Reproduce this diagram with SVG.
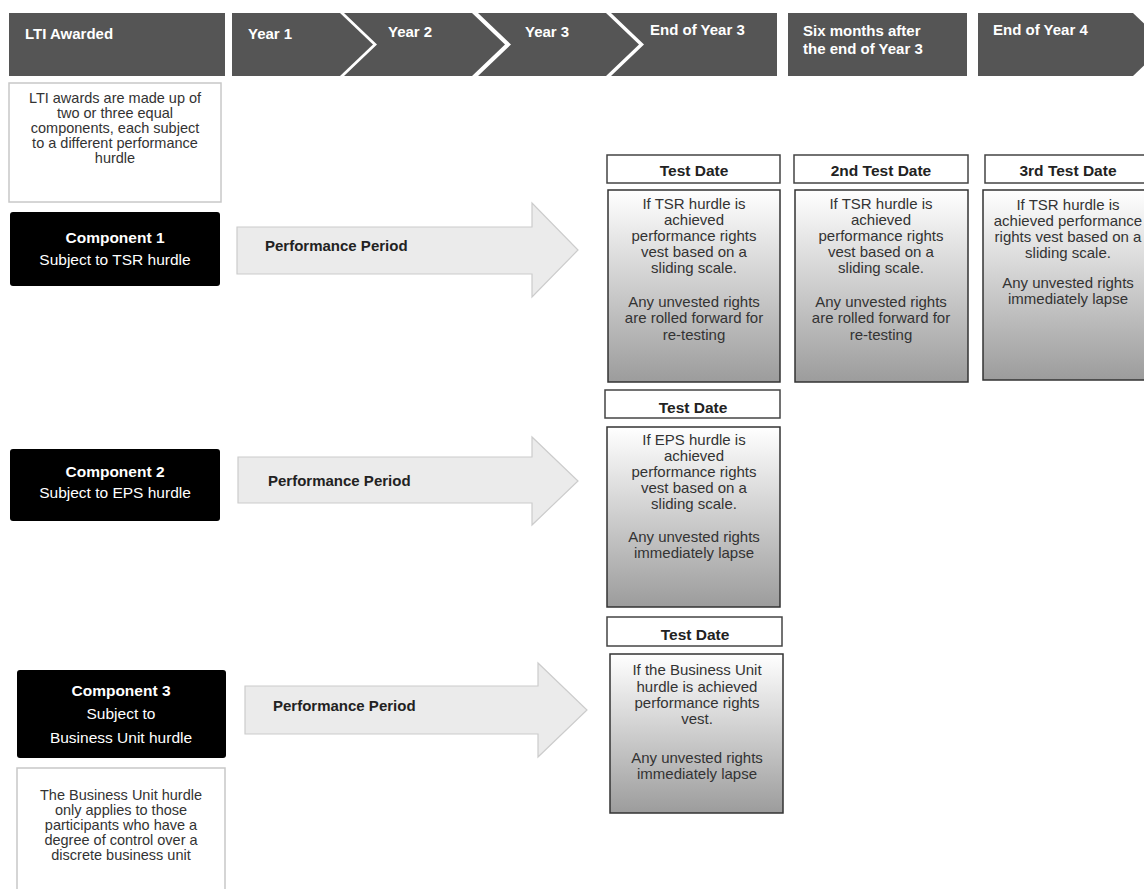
<svg xmlns="http://www.w3.org/2000/svg" width="1144" height="889" viewBox="0 0 1144 889">
<style>
.hdr{fill:#555555}
.ht{font-family:"Liberation Sans",Arial,sans-serif;font-size:15px;font-weight:bold;fill:#ffffff}
.note{fill:#ffffff;stroke:#c8c8c8;stroke-width:1.5}
.nt{font-family:"Liberation Sans",Arial,sans-serif;font-size:14.5px;fill:#333333;text-anchor:middle}
.comp{fill:#000000}
.ct{font-family:"Liberation Sans",Arial,sans-serif;font-size:15.5px;fill:#ffffff;text-anchor:middle}
.ctb{font-weight:bold}
.arr{fill:#ebebeb;stroke:#cccccc;stroke-width:1.2}
.at{font-family:"Liberation Sans",Arial,sans-serif;font-size:15px;font-weight:bold;fill:#222222}
.th{fill:#ffffff;stroke:#444444;stroke-width:1.5}
.tht{font-family:"Liberation Sans",Arial,sans-serif;font-size:15.5px;font-weight:bold;fill:#222222;text-anchor:middle}
.tb{fill:url(#grad);stroke:#333333;stroke-width:1.5}
.tbt{font-family:"Liberation Sans",Arial,sans-serif;font-size:15px;fill:#333333;text-anchor:middle}
</style>
<defs>
<linearGradient id="grad" x1="0" y1="0" x2="0" y2="1">
<stop offset="0" stop-color="#ffffff"/>
<stop offset="1" stop-color="#9c9c9c"/>
</linearGradient>
</defs>
<rect width="1144" height="889" fill="#ffffff"/>

<g id="header">
<g id="h-lti"><rect class="hdr" x="9" y="13" width="216" height="63"/><text class="ht" x="25" y="39">LTI Awarded</text></g>
<g id="h-y1"><polygon class="hdr" points="232,13 340,13 373,44.5 340,76 232,76"/><text class="ht" x="248" y="39">Year 1</text></g>
<g id="h-y2"><polygon class="hdr" points="344,13 472,13 505,44.5 472,76 344,76 377,44.5"/><text class="ht" x="388" y="37">Year 2</text></g>
<g id="h-y3"><polygon class="hdr" points="478,13 606,13 639,44.5 606,76 478,76 511,44.5"/><text class="ht" x="525" y="37">Year 3</text></g>
<g id="h-ey3"><polygon class="hdr" points="611,13 777,13 777,76 611,76 644,44.5"/><text class="ht" x="650" y="35">End of Year 3</text></g>
<g id="h-six"><rect class="hdr" x="788" y="13" width="179" height="63"/><text class="ht" x="803" y="36">Six months after</text><text class="ht" x="803" y="54">the end of Year 3</text></g>
<g id="h-ey4"><polygon class="hdr" points="978,13 1133,13 1166,44.5 1133,76 978,76"/><text class="ht" x="993" y="35">End of Year 4</text></g>
</g>

<g id="note-top">
<rect class="note" x="9" y="83" width="212" height="119"/>
<text class="nt" x="115" y="103">LTI awards are made up of</text>
<text class="nt" x="115" y="118">two or three equal</text>
<text class="nt" x="115" y="133">components, each subject</text>
<text class="nt" x="115" y="148">to a different performance</text>
<text class="nt" x="115" y="163">hurdle</text>
</g>

<g id="comp1">
<rect class="comp" x="10" y="212" width="210" height="74" rx="3"/>
<text class="ct ctb" x="115" y="243">Component 1</text>
<text class="ct" x="115" y="265">Subject to TSR hurdle</text>
</g>
<g id="comp2">
<rect class="comp" x="10" y="449" width="210" height="72" rx="3"/>
<text class="ct ctb" x="115" y="477">Component 2</text>
<text class="ct" x="115" y="498">Subject to EPS hurdle</text>
</g>
<g id="comp3">
<rect class="comp" x="17" y="670" width="209" height="88" rx="3"/>
<text class="ct ctb" x="121" y="696">Component 3</text>
<text class="ct" x="121" y="719">Subject to</text>
<text class="ct" x="121" y="743">Business Unit hurdle</text>
</g>
<g id="note-bottom">
<path class="note" d="M17,892 L17,768 L225,768 L225,892"/>
<text class="nt" x="121" y="800">The Business Unit hurdle</text>
<text class="nt" x="121" y="815">only applies to those</text>
<text class="nt" x="121" y="830">participants who have a</text>
<text class="nt" x="121" y="845">degree of control over a</text>
<text class="nt" x="121" y="860">discrete business unit</text>
</g>

<g id="connectors">
<g id="arrow1"><polygon class="arr" points="237,227 532,227 532,203 578,250 532,297 532,274 237,274"/><text class="at" x="265" y="251">Performance Period</text></g>
<g id="arrow2"><polygon class="arr" points="238,457 532,457 532,437 578,481 532,525 532,503 238,503"/><text class="at" x="268" y="486">Performance Period</text></g>
<g id="arrow3"><polygon class="arr" points="245,686 538,686 538,663 587,710 538,757 538,734 245,734"/><text class="at" x="273" y="711">Performance Period</text></g>
</g>

<g id="test1">
<rect class="th" x="607" y="155" width="173" height="28"/>
<text class="tht" x="694" y="176">Test Date</text>
<rect class="tb" x="608" y="190" width="172" height="192"/>
<text class="tbt" x="694" y="209">If TSR hurdle is</text>
<text class="tbt" x="694" y="225">achieved</text>
<text class="tbt" x="694" y="241">performance rights</text>
<text class="tbt" x="694" y="257">vest based on a</text>
<text class="tbt" x="694" y="273">sliding scale.</text>
<text class="tbt" x="694" y="307">Any unvested rights</text>
<text class="tbt" x="694" y="323">are rolled forward for</text>
<text class="tbt" x="694" y="340">re-testing</text>
</g>
<g id="test2">
<rect class="th" x="794" y="155" width="174" height="28"/>
<text class="tht" x="881" y="176">2nd Test Date</text>
<rect class="tb" x="795" y="190" width="173" height="192"/>
<text class="tbt" x="881" y="209">If TSR hurdle is</text>
<text class="tbt" x="881" y="225">achieved</text>
<text class="tbt" x="881" y="241">performance rights</text>
<text class="tbt" x="881" y="257">vest based on a</text>
<text class="tbt" x="881" y="273">sliding scale.</text>
<text class="tbt" x="881" y="307">Any unvested rights</text>
<text class="tbt" x="881" y="323">are rolled forward for</text>
<text class="tbt" x="881" y="340">re-testing</text>
</g>
<g id="test3">
<rect class="th" x="985" y="155" width="170" height="28"/>
<text class="tht" x="1068" y="176">3rd Test Date</text>
<rect class="tb" x="983" y="190" width="172" height="190"/>
<text class="tbt" x="1068" y="210">If TSR hurdle is</text>
<text class="tbt" x="1068" y="226">achieved performance</text>
<text class="tbt" x="1068" y="242">rights vest based on a</text>
<text class="tbt" x="1068" y="258">sliding scale.</text>
<text class="tbt" x="1068" y="288">Any unvested rights</text>
<text class="tbt" x="1068" y="304">immediately lapse</text>
</g>
<g id="test-eps">
<rect class="th" x="605" y="390" width="175" height="28"/>
<text class="tht" x="693" y="413">Test Date</text>
<rect class="tb" x="607" y="427" width="173" height="180"/>
<text class="tbt" x="694" y="445">If EPS hurdle is</text>
<text class="tbt" x="694" y="461">achieved</text>
<text class="tbt" x="694" y="477">performance rights</text>
<text class="tbt" x="694" y="493">vest based on a</text>
<text class="tbt" x="694" y="509">sliding scale.</text>
<text class="tbt" x="694" y="542">Any unvested rights</text>
<text class="tbt" x="694" y="558">immediately lapse</text>
</g>
<g id="test-bu">
<rect class="th" x="607" y="617" width="175" height="29"/>
<text class="tht" x="695" y="640">Test Date</text>
<rect class="tb" x="610" y="654" width="173" height="159"/>
<text class="tbt" x="697" y="675">If the Business Unit</text>
<text class="tbt" x="697" y="692">hurdle is achieved</text>
<text class="tbt" x="697" y="708">performance rights</text>
<text class="tbt" x="697" y="724">vest.</text>
<text class="tbt" x="697" y="763">Any unvested rights</text>
<text class="tbt" x="697" y="779">immediately lapse</text>
</g>
</svg>
